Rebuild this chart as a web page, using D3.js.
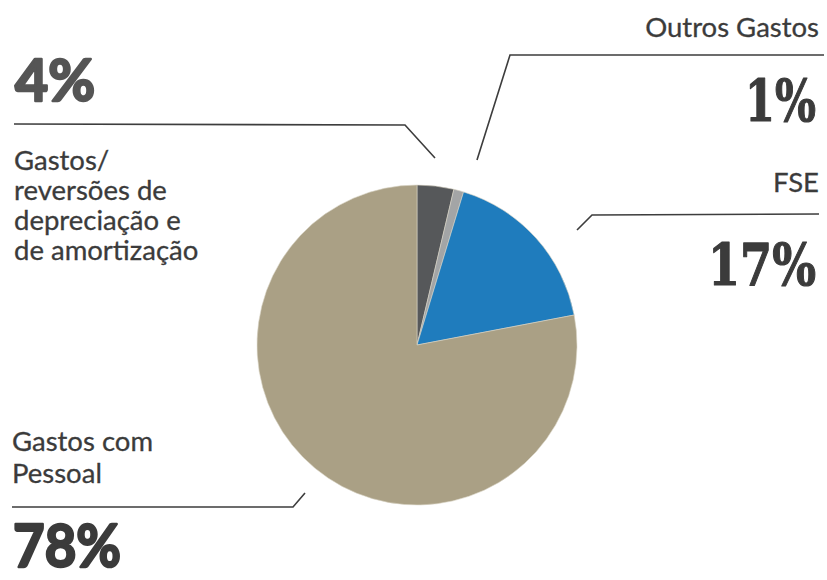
<!DOCTYPE html>
<html>
<head>
<meta charset="utf-8">
<script src="https://cdn.jsdelivr.net/npm/d3@7"></script>
<style>
  body { margin: 0; background: #fff; }
  text { fill: #3b3b3b; }
</style>
</head>
<body>
<div id="chart"></div>
<script>
// slices in clockwise order starting at 12 o'clock
const categories = ['Gastos/ reversões de depreciação e de amortização', 'Outros Gastos', 'FSE', 'Gastos com Pessoal'];
const values = [3.7, 1, 17.3, 78];
const colors = ['#56585a', '#a3a5a6', '#1f7cbd', '#aaa085'];
const percentLabels = ['4%', '1%', '17%', '78%'];

const width = 827, height = 580;
const cx = 417, cy = 345, radius = 160;

const svg = d3.select('#chart').append('svg')
  .attr('width', width)
  .attr('height', height);

const pie = d3.pie().sort(null).value(d => d);
const arc = d3.arc().innerRadius(0).outerRadius(radius);
const arcs = pie(values);

const g = svg.append('g').attr('transform', `translate(${cx},${cy})`);
g.selectAll('path')
  .data(arcs)
  .enter()
  .append('path')
  .attr('d', arc)
  .attr('fill', (d, i) => colors[i])
  .attr('stroke', '#d9d4c4')
  .attr('stroke-width', 0.6);

// annotation layout: label lines, percentage box (left, baseline, width, size), leader line
const slab = 'DejaVu Serif';
const notes = [
  { lines: ['Gastos/', 'reversões de', 'depreciação e', 'de amortização'], lx: 14, ly: 170, dy: 30, anchor: 'start',
    pct: { x: 15, y: 101, w: 80, size: 58, font: 'Lato', stroke: 2.5, color: '#555' },
    leader: [[14, 124], [405, 125], [435, 158]] },
  { lines: ['Outros Gastos'], lx: 819, ly: 37, dy: 0, anchor: 'end',
    pct: { x: 745, y: 121, w: 71, size: 58, font: slab, stroke: 1.2, color: '#3b3b3b' },
    leader: [[824, 55], [510, 55], [477, 160]] },
  { lines: ['FSE'], lx: 819, ly: 192, dy: 0, anchor: 'end',
    pct: { x: 708, y: 285, w: 108, size: 58, font: slab, stroke: 1.2, color: '#3b3b3b' },
    leader: [[819, 214], [592, 215], [577, 230]] },
  { lines: ['Gastos com', 'Pessoal'], lx: 12, ly: 451, dy: 32, anchor: 'start',
    pct: { x: 13, y: 567, w: 108, size: 60, font: 'Lato', stroke: 2.5, color: '#3b3b3b' },
    leader: [[12, 507], [293, 507], [305, 493]] }
];

const line = d3.line();

notes.forEach((n, i) => {
  const t = svg.append('text')
    .attr('x', n.lx)
    .attr('y', n.ly)
    .attr('text-anchor', n.anchor)
    .attr('font-family', 'Lato, sans-serif')
    .attr('font-size', 27.5)
    .style('stroke', '#3b3b3b')
    .style('stroke-width', 0.3);
  n.lines.forEach((s, j) => {
    t.append('tspan').attr('x', n.lx).attr('y', n.ly + j * n.dy).text(s);
  });

  // percentage: natural size first, then stretched horizontally to the measured width
  const p = svg.append('text')
    .attr('font-family', n.pct.font)
    .attr('font-weight', 'bold')
    .attr('font-size', n.pct.size)
    .style('fill', n.pct.color)
    .style('stroke', n.pct.color)
    .style('stroke-width', n.pct.stroke)
    .style('stroke-linejoin', 'round')
    .text(percentLabels[i]);
  const bw = p.node().getComputedTextLength();
  p.attr('transform', `translate(${n.pct.x},${n.pct.y}) scale(${n.pct.w / bw},1)`);

  svg.append('path')
    .attr('d', line(n.leader))
    .attr('fill', 'none')
    .attr('stroke', '#3d3d3d')
    .attr('stroke-width', 1.6);
});
</script>
</body>
</html>
